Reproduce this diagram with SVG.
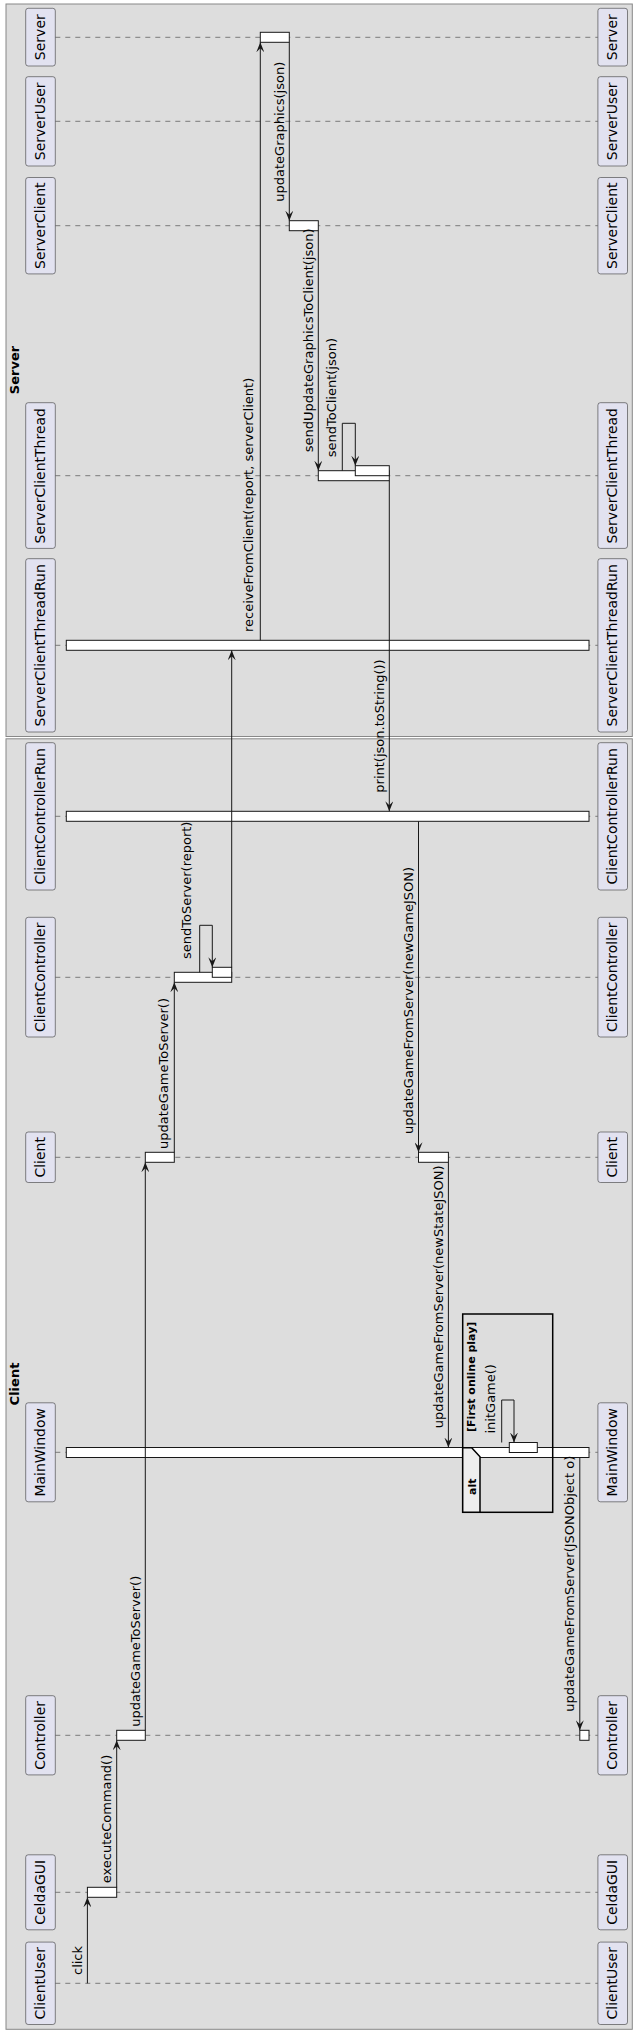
<svg xmlns="http://www.w3.org/2000/svg" width="637" height="2031" viewBox="0 0 637 2031">
<style>
.grp{fill:#DDDDDD;stroke:#888888;stroke-width:1}
.gtxt{font-family:"DejaVu Sans",sans-serif;font-size:13px;font-weight:bold;fill:#000}
.pbox{fill:#E2E2F0;stroke:#181818;stroke-width:0.5}
.ptxt{font-family:"DejaVu Sans",sans-serif;font-size:14px;fill:#000}
.life{stroke:#181818;stroke-width:0.5;stroke-dasharray:5,5;fill:none}
.act{fill:#FFFFFF;stroke:#181818;stroke-width:1}
.msg{stroke:#181818;stroke-width:1;fill:none;marker-end:url(#arr)}
.mtxt{font-family:"DejaVu Sans",sans-serif;font-size:13px;fill:#000}
.frame{fill:none;stroke:#000;stroke-width:1.5}
.tab{fill:#EEEEEE;stroke:#000;stroke-width:1.5}
.ftxt{font-family:"DejaVu Sans",sans-serif;font-size:11px;font-weight:bold;fill:#000}
</style>
<defs>
<marker id="arr" markerUnits="userSpaceOnUse" markerWidth="10" markerHeight="8" viewBox="0 0 10 8" refX="10" refY="4" orient="auto">
<path d="M0,0 L10,4 L0,8 L4,4 Z" fill="#181818"/>
</marker>
</defs>
<rect width="637" height="2031" fill="#FFFFFF"/>
<g id="group-server">
<rect class="grp" x="6" y="4" width="626.3" height="732.5"/>
<text class="gtxt" transform="translate(19,370) rotate(-90)" text-anchor="middle">Server</text>
</g>
<g id="group-client">
<rect class="grp" x="6" y="738.8" width="626.3" height="1290.5"/>
<text class="gtxt" transform="translate(18.5,1384) rotate(-90)" text-anchor="middle">Client</text>
</g>
<g id="lifelines">
<line class="life" x1="55.3" y1="37.3" x2="597.7" y2="37.3"/>
<line class="life" x1="55.3" y1="121.3" x2="597.7" y2="121.3"/>
<line class="life" x1="55.3" y1="225.7" x2="597.7" y2="225.7"/>
<line class="life" x1="55.3" y1="475.7" x2="597.7" y2="475.7"/>
<line class="life" x1="55.3" y1="645.3" x2="597.7" y2="645.3"/>
<line class="life" x1="55.3" y1="816.3" x2="597.7" y2="816.3"/>
<line class="life" x1="55.3" y1="977.3" x2="597.7" y2="977.3"/>
<line class="life" x1="55.3" y1="1157.3" x2="597.7" y2="1157.3"/>
<line class="life" x1="55.3" y1="1452.3" x2="597.7" y2="1452.3"/>
<line class="life" x1="55.3" y1="1735.3" x2="597.7" y2="1735.3"/>
<line class="life" x1="55.3" y1="1892.3" x2="597.7" y2="1892.3"/>
<line class="life" x1="55.3" y1="1983.3" x2="597.7" y2="1983.3"/>
</g>
<g id="Server">
<rect class="pbox" x="25.7" y="8.3" width="29.6" height="57.7" rx="2.5"/>
<text class="ptxt" transform="translate(45,37.2) rotate(-90)" text-anchor="middle">Server</text>
<rect class="pbox" x="597.9" y="8.3" width="29.6" height="57.7" rx="2.5"/>
<text class="ptxt" transform="translate(617.2,37.2) rotate(-90)" text-anchor="middle">Server</text>
<rect class="act" x="260.3" y="32.3" width="29" height="10"/>
</g>
<g id="ServerUser">
<rect class="pbox" x="25.7" y="76.7" width="29.6" height="89.3" rx="2.5"/>
<text class="ptxt" transform="translate(45,121.3) rotate(-90)" text-anchor="middle">ServerUser</text>
<rect class="pbox" x="597.9" y="76.7" width="29.6" height="89.3" rx="2.5"/>
<text class="ptxt" transform="translate(617.2,121.3) rotate(-90)" text-anchor="middle">ServerUser</text>
</g>
<g id="ServerClient">
<rect class="pbox" x="25.7" y="177.5" width="29.6" height="96.4" rx="2.5"/>
<text class="ptxt" transform="translate(45,225.7) rotate(-90)" text-anchor="middle">ServerClient</text>
<rect class="pbox" x="597.9" y="177.5" width="29.6" height="96.4" rx="2.5"/>
<text class="ptxt" transform="translate(617.2,225.7) rotate(-90)" text-anchor="middle">ServerClient</text>
<rect class="act" x="289.3" y="220.7" width="29" height="10"/>
</g>
<g id="ServerClientThread">
<rect class="pbox" x="25.7" y="402.7" width="29.6" height="145.7" rx="2.5"/>
<text class="ptxt" transform="translate(45,475.7) rotate(-90)" text-anchor="middle">ServerClientThread</text>
<rect class="pbox" x="597.9" y="402.7" width="29.6" height="145.7" rx="2.5"/>
<text class="ptxt" transform="translate(617.2,475.7) rotate(-90)" text-anchor="middle">ServerClientThread</text>
<rect class="act" x="318.3" y="470.7" width="71" height="10"/>
<rect class="act" x="355.3" y="465.7" width="34" height="10"/>
</g>
<g id="ServerClientThreadRun">
<rect class="pbox" x="25.7" y="558.7" width="29.6" height="173.3" rx="2.5"/>
<text class="ptxt" transform="translate(45,645.3) rotate(-90)" text-anchor="middle">ServerClientThreadRun</text>
<rect class="pbox" x="597.9" y="558.7" width="29.6" height="173.3" rx="2.5"/>
<text class="ptxt" transform="translate(617.2,645.3) rotate(-90)" text-anchor="middle">ServerClientThreadRun</text>
<rect class="act" x="66.3" y="640.3" width="522.7" height="10"/>
</g>
<g id="ClientControllerRun">
<rect class="pbox" x="25.7" y="742.7" width="29.6" height="147.3" rx="2.5"/>
<text class="ptxt" transform="translate(45,816.3) rotate(-90)" text-anchor="middle">ClientControllerRun</text>
<rect class="pbox" x="597.9" y="742.7" width="29.6" height="147.3" rx="2.5"/>
<text class="ptxt" transform="translate(617.2,816.3) rotate(-90)" text-anchor="middle">ClientControllerRun</text>
<rect class="act" x="66.3" y="811.3" width="522.7" height="10"/>
</g>
<g id="ClientController">
<rect class="pbox" x="25.7" y="917.3" width="29.6" height="119.7" rx="2.5"/>
<text class="ptxt" transform="translate(45,977.3) rotate(-90)" text-anchor="middle">ClientController</text>
<rect class="pbox" x="597.9" y="917.3" width="29.6" height="119.7" rx="2.5"/>
<text class="ptxt" transform="translate(617.2,977.3) rotate(-90)" text-anchor="middle">ClientController</text>
<rect class="act" x="174.3" y="972.3" width="57.4" height="10"/>
<rect class="act" x="212.3" y="967.3" width="19.4" height="10"/>
</g>
<g id="Client">
<rect class="pbox" x="25.7" y="1132" width="29.6" height="50.5" rx="2.5"/>
<text class="ptxt" transform="translate(45,1157.3) rotate(-90)" text-anchor="middle">Client</text>
<rect class="pbox" x="597.9" y="1132" width="29.6" height="50.5" rx="2.5"/>
<text class="ptxt" transform="translate(617.2,1157.3) rotate(-90)" text-anchor="middle">Client</text>
<rect class="act" x="145.3" y="1152.3" width="29" height="10"/>
<rect class="act" x="418.5" y="1152.3" width="29.9" height="10"/>
</g>
<g id="MainWindow">
<rect class="pbox" x="25.7" y="1402.8" width="29.6" height="99" rx="2.5"/>
<text class="ptxt" transform="translate(45,1452.3) rotate(-90)" text-anchor="middle">MainWindow</text>
<rect class="pbox" x="597.9" y="1402.8" width="29.6" height="99" rx="2.5"/>
<text class="ptxt" transform="translate(617.2,1452.3) rotate(-90)" text-anchor="middle">MainWindow</text>
<rect class="act" x="66.3" y="1447.5" width="522.7" height="10"/>
<rect class="act" x="509.3" y="1442.5" width="28" height="10"/>
</g>
<g id="Controller">
<rect class="pbox" x="25.7" y="1695.7" width="29.6" height="79.2" rx="2.5"/>
<text class="ptxt" transform="translate(45,1735.3) rotate(-90)" text-anchor="middle">Controller</text>
<rect class="pbox" x="597.9" y="1695.7" width="29.6" height="79.2" rx="2.5"/>
<text class="ptxt" transform="translate(617.2,1735.3) rotate(-90)" text-anchor="middle">Controller</text>
<rect class="act" x="116.7" y="1730.3" width="28.6" height="10"/>
<rect class="act" x="579.8" y="1730.3" width="9.2" height="10"/>
</g>
<g id="CeldaGUI">
<rect class="pbox" x="25.7" y="1854.8" width="29.6" height="75" rx="2.5"/>
<text class="ptxt" transform="translate(45,1892.3) rotate(-90)" text-anchor="middle">CeldaGUI</text>
<rect class="pbox" x="597.9" y="1854.8" width="29.6" height="75" rx="2.5"/>
<text class="ptxt" transform="translate(617.2,1892.3) rotate(-90)" text-anchor="middle">CeldaGUI</text>
<rect class="act" x="87.4" y="1887.3" width="29.3" height="10"/>
</g>
<g id="ClientUser">
<rect class="pbox" x="25.7" y="1942.1" width="29.6" height="82.4" rx="2.5"/>
<text class="ptxt" transform="translate(45,1983.3) rotate(-90)" text-anchor="middle">ClientUser</text>
<rect class="pbox" x="597.9" y="1942.1" width="29.6" height="82.4" rx="2.5"/>
<text class="ptxt" transform="translate(617.2,1983.3) rotate(-90)" text-anchor="middle">ClientUser</text>
</g>
<g id="alt-frame">
<rect class="frame" x="462.7" y="1314" width="90" height="198.3"/>
<polygon class="tab" points="462.7,1512.3 462.7,1447.7 471.7,1447.7 480,1456.7 480,1512.3"/>
<text class="ftxt" transform="translate(475.5,1495) rotate(-90)">alt</text>
<text class="ftxt" transform="translate(474.5,1432) rotate(-90)">[First online play]</text>
</g>
<g id="connectors">
<line class="msg" x1="87.4" y1="1983.3" x2="87.4" y2="1897.3"/>
<text class="mtxt" transform="translate(81.9,1975) rotate(-90)">click</text>
<line class="msg" x1="116.7" y1="1887.3" x2="116.7" y2="1740.3"/>
<text class="mtxt" transform="translate(111,1883.3) rotate(-90)">executeCommand()</text>
<line class="msg" x1="145.3" y1="1730.3" x2="145.3" y2="1162.3"/>
<text class="mtxt" transform="translate(139.6,1726.7) rotate(-90)">updateGameToServer()</text>
<line class="msg" x1="174.3" y1="1152.3" x2="174.3" y2="982.3"/>
<text class="mtxt" transform="translate(168.3,1149) rotate(-90)">updateGameToServer()</text>
<polyline class="msg" points="199.7,972.3 199.7,925.3 212.3,925.3 212.3,967.3"/>
<text class="mtxt" transform="translate(190.8,959) rotate(-90)">sendToServer(report)</text>
<line class="msg" x1="231.7" y1="967.3" x2="231.7" y2="650.3"/>
<line class="msg" x1="260.3" y1="640.3" x2="260.3" y2="42.3"/>
<text class="mtxt" transform="translate(253,632) rotate(-90)">receiveFromClient(report, serverClient)</text>
<line class="msg" x1="289.3" y1="42.3" x2="289.3" y2="220.7"/>
<text class="mtxt" transform="translate(283.6,201.7) rotate(-90)">updateGraphics(json)</text>
<line class="msg" x1="318.3" y1="230.7" x2="318.3" y2="470.7"/>
<text class="mtxt" transform="translate(312.6,452.3) rotate(-90)">sendUpdateGraphicsToClient(json)</text>
<polyline class="msg" points="342.3,470.7 342.3,423.3 355.3,423.3 355.3,465.7"/>
<text class="mtxt" transform="translate(335.5,457.3) rotate(-90)">sendToClient(json)</text>
<line class="msg" x1="389.3" y1="480.7" x2="389.3" y2="811.3"/>
<text class="mtxt" transform="translate(383.6,792.7) rotate(-90)">print(json.toString())</text>
<line class="msg" x1="418.5" y1="821.3" x2="418.5" y2="1152.3"/>
<text class="mtxt" transform="translate(412.8,1134) rotate(-90)">updateGameFromServer(newGameJSON)</text>
<line class="msg" x1="448.4" y1="1162.3" x2="448.4" y2="1447.5"/>
<text class="mtxt" transform="translate(442.7,1428.3) rotate(-90)">updateGameFromServer(newStateJSON)</text>
<polyline class="msg" points="501.7,1442.5 501.7,1400 514,1400 514,1442.5"/>
<text class="mtxt" transform="translate(494.8,1433.5) rotate(-90)">initGame()</text>
<line class="msg" x1="579.8" y1="1457.5" x2="579.8" y2="1730.3"/>
<text class="mtxt" transform="translate(574.1,1711.7) rotate(-90)">updateGameFromServer(JSONObject o)</text>
</g>
</svg>
